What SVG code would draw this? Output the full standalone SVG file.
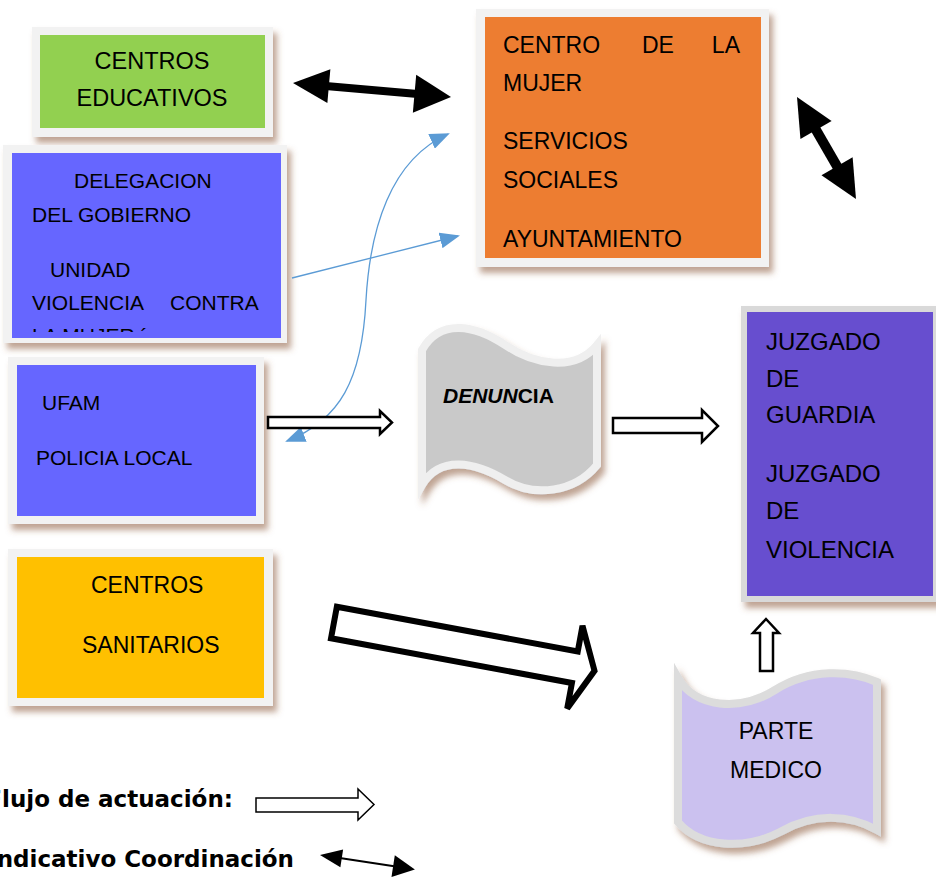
<svg xmlns="http://www.w3.org/2000/svg" width="936" height="881" viewBox="0 0 936 881">
<defs>
<style>
.t{font-family:"Liberation Sans",Arial,sans-serif;fill:#000}
.frame{fill:#f2f2f2}
.leg{font-family:"DejaVu Sans",Verdana,sans-serif;font-weight:bold;font-size:23px;fill:#000}
.hollow{fill:#fff;stroke:#000;stroke-linejoin:miter}
.blue{fill:none;stroke:#5b9bd5;stroke-width:1.3}
</style>
<filter id="sh" x="-10%" y="-10%" width="130%" height="130%">
<feDropShadow dx="4" dy="6" stdDeviation="3" flood-color="#8a5a3a" flood-opacity="0.55"/>
</filter>
<marker id="bh" viewBox="0 0 20 16" refX="18" refY="8" markerWidth="20" markerHeight="16" markerUnits="userSpaceOnUse" orient="auto-start-reverse">
<path d="M0,0 L20,8 L0,16 Z" fill="#5b9bd5"/>
</marker>
<clipPath id="clipDel"><rect x="12" y="153" width="269" height="179"/></clipPath>
</defs>

<g id="centros-educativos">
<rect class="frame" x="32" y="27" width="241" height="110" filter="url(#sh)"/>
<rect x="40" y="35" width="225" height="93" fill="#92d050"/>
<text class="t" font-size="23.5" text-anchor="middle" x="152" y="69">CENTROS</text>
<text class="t" font-size="23.5" text-anchor="middle" x="152" y="106">EDUCATIVOS</text>
</g>

<g id="delegacion">
<rect class="frame" x="3" y="145" width="284" height="198" filter="url(#sh)"/>
<rect x="12" y="153" width="269" height="185" fill="#6666ff"/>
<g class="t" font-size="21">
<text x="74" y="188">DELEGACION</text>
<text x="32" y="222">DEL GOBIERNO</text>
<text x="50" y="277">UNIDAD</text>
<text x="32" y="310">VIOLENCIA</text>
<text x="170" y="310">CONTRA</text>
<text x="32" y="343" clip-path="url(#clipDel)">LA  MUJER  ´</text>
</g>
</g>

<g id="centro-mujer">
<rect class="frame" x="476" y="9" width="293" height="258" filter="url(#sh)"/>
<rect x="485" y="17" width="276" height="241" fill="#ed7d31"/>
<g class="t" font-size="23">
<text x="503" y="53">CENTRO</text>
<text x="642" y="53">DE</text>
<text x="740" y="53" text-anchor="end">LA</text>
<text x="503" y="91">MUJER</text>
<text x="503" y="149">SERVICIOS</text>
<text x="503" y="188">SOCIALES</text>
<text x="503" y="247">AYUNTAMIENTO</text>
</g>
</g>

<g id="ufam">
<rect class="frame" x="8" y="357" width="256" height="167" filter="url(#sh)"/>
<rect x="17" y="365" width="239" height="151" fill="#6666ff"/>
<g class="t" font-size="21">
<text x="42" y="410">UFAM</text>
<text x="36" y="465">POLICIA LOCAL</text>
</g>
</g>

<g id="centros-sanitarios">
<rect class="frame" x="8" y="549" width="265" height="157" filter="url(#sh)"/>
<rect x="17" y="557" width="247" height="141" fill="#ffc000"/>
<g class="t" font-size="23">
<text x="91" y="593">CENTROS</text>
<text x="82" y="653">SANITARIOS</text>
</g>
</g>

<g id="denuncia">
<path d="M422,350 C440,318 475,325 505,345 C535,365 575,372 597,345 L597,465 C575,492 535,498 505,480 C475,462 440,455 422,485 Z" fill="#c9c9c9" stroke="#efefef" stroke-width="8" filter="url(#sh)"/>
<text class="t" font-size="21" font-weight="bold" x="443" y="403"><tspan font-style="italic">DENUN</tspan>CIA</text>
</g>

<g id="juzgado">
<rect x="741" y="306" width="200" height="296" fill="#d9d9d9" filter="url(#sh)"/>
<rect x="747" y="312" width="186" height="284" fill="#674ecf"/>
<g class="t" font-size="24">
<text x="766" y="350">JUZGADO</text>
<text x="766" y="387">DE</text>
<text x="766" y="423">GUARDIA</text>
<text x="766" y="482">JUZGADO</text>
<text x="766" y="519">DE</text>
<text x="766" y="558">VIOLENCIA</text>
</g>
</g>

<g id="parte-medico">
<path d="M678,678 C695,708 740,712 775,690 C810,668 850,670 877,682 L877,830 C850,815 815,812 780,832 C745,850 700,848 678,822 Z" fill="#cbc1ef" stroke="#dcdcdc" stroke-width="8" filter="url(#sh)"/>
<g class="t" font-size="23" text-anchor="middle">
<text x="776" y="739">PARTE</text>
<text x="776" y="778">MEDICO</text>
</g>
</g>

<g id="connectors">
<g transform="translate(293,83) rotate(5.06)">
<line x1="30" y1="0" x2="128" y2="0" stroke="#000" stroke-width="8"/>
<path d="M0,0 L36,-17 L36,17 Z" fill="#000"/>
<path d="M158.6,0 L122,-19 L122,19 Z" fill="#000"/>
</g>
<g transform="translate(797,97) rotate(59.95)">
<line x1="30" y1="0" x2="88" y2="0" stroke="#000" stroke-width="10"/>
<path d="M0,0 L38,-18 L38,18 Z" fill="#000"/>
<path d="M117.8,0 L80,-18 L80,18 Z" fill="#000"/>
</g>
<path class="blue" d="M292,278 L458,236" marker-end="url(#bh)"/>
<path class="blue" d="M448,134 C390,160 370,230 366,300 C362,380 340,420 287,441" marker-start="url(#bh)" marker-end="url(#bh)"/>
<polygon class="hollow" stroke-width="2.5" points="268,417 380,417 380,411 392,422.5 380,434 380,428 268,428"/>
<polygon class="hollow" stroke-width="2.5" points="613,418 702,418 702,410 718,426 702,442 702,433 613,433"/>
<g transform="translate(331,622) rotate(10.5)">
<polygon class="hollow" stroke-width="6" points="3,-16 248,-16 248,-42 268,0 248,42 248,16 3,16"/>
</g>
<polygon class="hollow" stroke-width="2.5" points="766,619 779,633 773,633 773,671 760,671 760,633 753,633"/>
</g>

<g id="legend">
<text class="leg" x="233" y="807" text-anchor="end">Flujo de actuación:</text>
<polygon class="hollow" stroke-width="1.5" points="256,798 358,798 358,789 374,804.5 358,820 358,812 256,812"/>
<text class="leg" x="294" y="867" text-anchor="end">Indicativo Coordinación</text>
<g transform="translate(320,855) rotate(8.7)">
<line x1="15" y1="0" x2="80" y2="0" stroke="#000" stroke-width="2"/>
<path d="M0,0 L22,-9 L22,9 Z" fill="#000"/>
<path d="M96,0 L74,-11 L74,11 Z" fill="#000"/>
</g>
</g>
</svg>
